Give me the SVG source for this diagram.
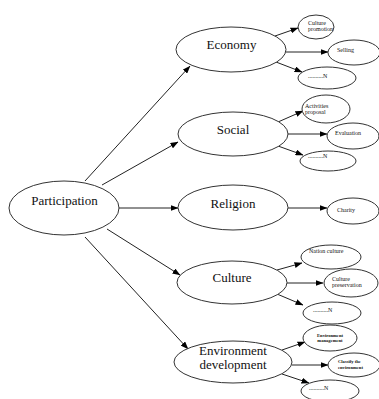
<svg xmlns="http://www.w3.org/2000/svg" width="379" height="399" viewBox="0 0 379 399">
<defs>
<marker id="ah" markerWidth="8" markerHeight="6" refX="7.5" refY="3" orient="auto" markerUnits="userSpaceOnUse">
<path d="M0,0 L8,3 L0,6 Z" fill="#000"/>
</marker>
<style>
.n{fill:#fff;stroke:#333;stroke-width:1}
.c{stroke:#222;stroke-width:1;fill:none;marker-end:url(#ah)}
.t{font-size:13px;fill:#111;text-anchor:middle}
.s{font-size:6px;fill:#111}
.xs{font-size:4.6px;fill:#111;font-weight:bold}
</style>
</defs>
<rect width="379" height="399" fill="#fff"/>
<g id="connectors">
<line class="c" x1="85" y1="181" x2="190" y2="66"/>
<line class="c" x1="102" y1="185" x2="178" y2="142"/>
<line class="c" x1="119" y1="208" x2="178" y2="208"/>
<line class="c" x1="107" y1="229" x2="180" y2="275"/>
<line class="c" x1="85" y1="237" x2="188" y2="349"/>
<line class="c" x1="275" y1="36" x2="298" y2="28"/>
<line class="c" x1="286" y1="52" x2="328" y2="52"/>
<line class="c" x1="276" y1="62" x2="302" y2="72"/>
<line class="c" x1="278" y1="122" x2="303" y2="111"/>
<line class="c" x1="288" y1="134" x2="327" y2="134"/>
<line class="c" x1="278" y1="146" x2="303" y2="155"/>
<line class="c" x1="288" y1="208" x2="327" y2="208"/>
<line class="c" x1="277" y1="270" x2="302" y2="263"/>
<line class="c" x1="287" y1="283" x2="323" y2="283"/>
<line class="c" x1="277" y1="294" x2="303" y2="305"/>
<line class="c" x1="282" y1="350" x2="305" y2="342"/>
<line class="c" x1="292" y1="365" x2="328" y2="365"/>
<line class="c" x1="282" y1="374" x2="309" y2="383"/>
</g>
<g font-family="'Liberation Serif', 'DejaVu Serif', serif">
<g id="participation"><ellipse class="n" cx="64" cy="208" rx="55" ry="27"/><text class="t" x="64.5" y="205">Participation</text></g>
<g id="economy"><ellipse class="n" cx="231" cy="49.5" rx="55" ry="22.5"/><text class="t" x="231.5" y="49">Economy</text></g>
<g id="social"><ellipse class="n" cx="233" cy="134" rx="55" ry="22"/><text class="t" x="233" y="134">Social</text></g>
<g id="religion"><ellipse class="n" cx="233" cy="207.5" rx="55" ry="22.5"/><text class="t" x="233" y="208">Religion</text></g>
<g id="culture"><ellipse class="n" cx="232" cy="282.5" rx="55" ry="21.5"/><text class="t" x="232" y="282">Culture</text></g>
<g id="environment"><ellipse class="n" cx="233" cy="362" rx="59" ry="21"/><text class="t" x="233" y="355">Environment</text><text class="t" x="233" y="369">development</text></g>
<g id="culture-promotion"><ellipse class="n" cx="316" cy="27" rx="18" ry="12"/><text class="s" x="308" y="25">Culture</text><text class="s" x="308" y="31">promotion</text></g>
<g id="selling"><ellipse class="n" cx="354" cy="52.5" rx="26" ry="12.5"/><text class="s" x="337" y="52">Selling</text></g>
<g id="n1"><ellipse class="n" cx="327" cy="78" rx="29" ry="11"/><text class="s" x="308" y="78">..........N</text></g>
<g id="activities-proposal"><ellipse class="n" cx="326" cy="109" rx="24" ry="14"/><text class="s" x="305" y="108">Activities</text><text class="s" x="305" y="114">proposal</text></g>
<g id="evaluation"><ellipse class="n" cx="353" cy="136" rx="26" ry="13"/><text class="s" x="335" y="135" font-size="6.8">Evaluation</text></g>
<g id="n2"><ellipse class="n" cx="328" cy="161" rx="28" ry="10"/><text class="s" x="308" y="158">..........N</text></g>
<g id="charity"><ellipse class="n" cx="353" cy="211" rx="26" ry="13"/><text class="s" x="337" y="212">Charity</text></g>
<g id="nation-culture"><ellipse class="n" cx="331" cy="257" rx="30" ry="12"/><text class="s" x="309" y="253">Nation culture</text></g>
<g id="culture-preservation"><ellipse class="n" cx="351" cy="283" rx="27" ry="14"/><text class="s" x="332" y="281">Culture</text><text class="s" x="332" y="287">preservation</text></g>
<g id="n3"><ellipse class="n" cx="332" cy="313" rx="29" ry="11"/><text class="s" x="313" y="312">..........N</text></g>
<g id="environment-management"><ellipse class="n" cx="330" cy="338" rx="27" ry="13"/><text class="xs" x="330" y="337" text-anchor="middle">Environment</text><text class="xs" x="330" y="342" text-anchor="middle">management</text></g>
<g id="classify"><ellipse class="n" cx="354" cy="365" rx="26" ry="12"/><text class="xs" x="338" y="363">Classify the</text><text class="xs" x="338" y="369">environment</text></g>
<g id="n4"><ellipse class="n" cx="330" cy="391" rx="29" ry="11"/><text class="s" x="309" y="390">..........N</text></g>
</g>
</svg>
